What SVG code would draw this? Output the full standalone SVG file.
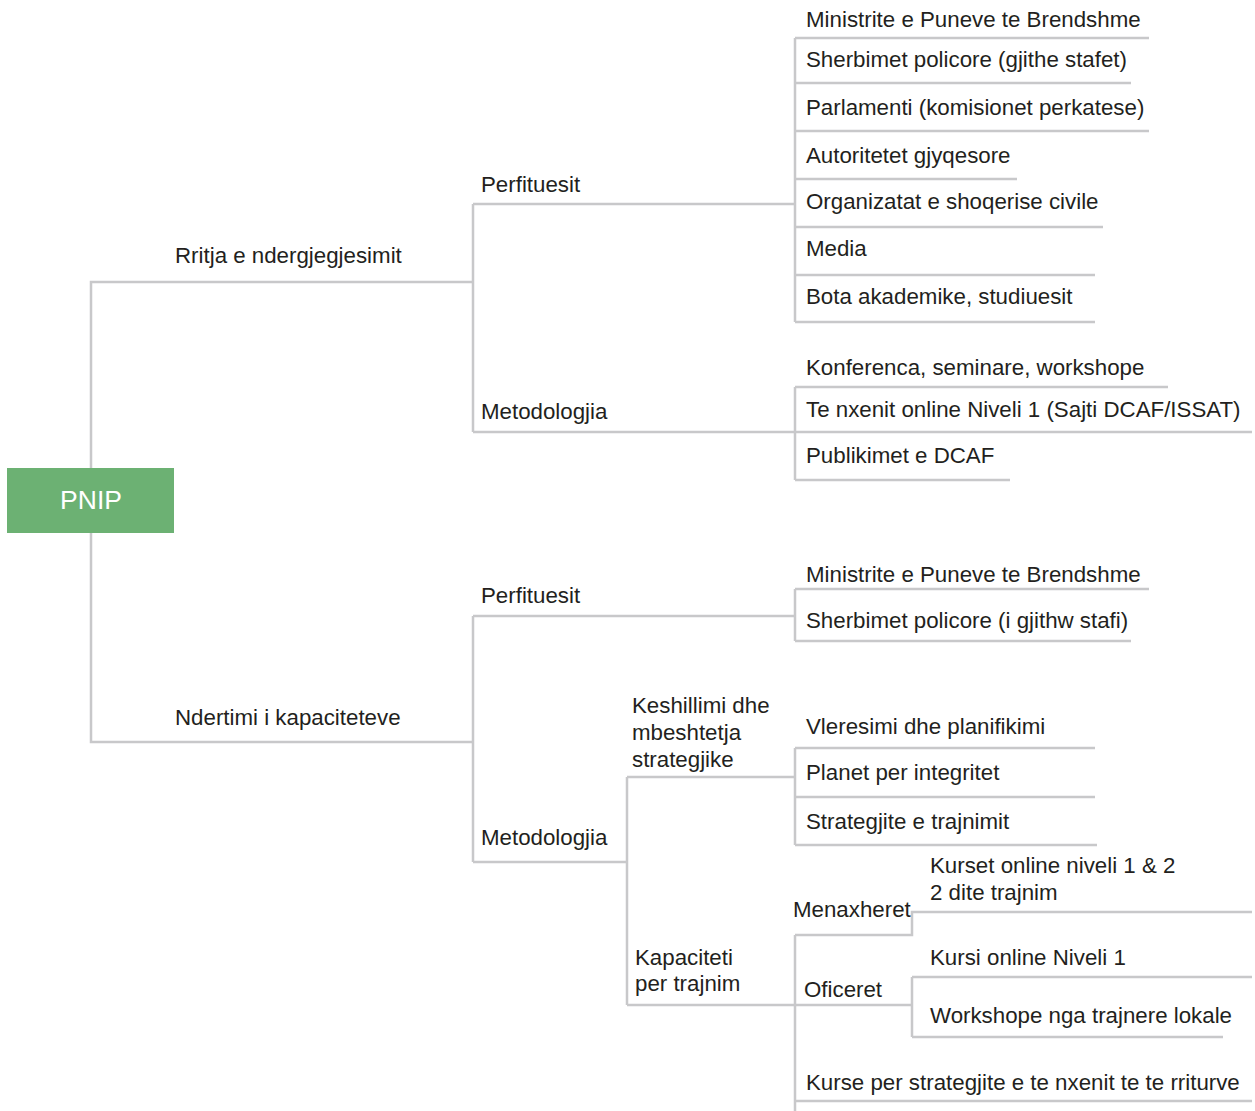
<svg xmlns="http://www.w3.org/2000/svg" width="1255" height="1111" viewBox="0 0 1255 1111">
<style>
.ln{fill:none;stroke:#c8c8ca;stroke-width:2.5}
text{font-family:"Liberation Sans",Arial,sans-serif;font-size:22.3px;fill:#231f20}
.root{font-size:26.5px;fill:#ffffff}
</style>
<rect width="1255" height="1111" fill="#ffffff"/>
<g id="connectors">
<path class="ln" d="M91 468V282H473M91 533V742H473"/>
<path class="ln" d="M473 204V432M473 204H795M473 432H795"/>
<path class="ln" d="M795 38V322M795 38H1149M795 83H1131M795 131H1149M795 179H1017M795 227H1103M795 275H1095M795 322H1095"/>
<path class="ln" d="M795 387V480M795 387H1168M795 432H1252M795 480H1010"/>
<path class="ln" d="M473 616V862M473 616H795M473 862H627"/>
<path class="ln" d="M795 589V641M795 589H1149M795 641H1131"/>
<path class="ln" d="M627 777V1005M627 777H795M627 1005H912"/>
<path class="ln" d="M795 748V845M795 748H1095M795 797H1095M795 845H1097"/>
<path class="ln" d="M795 935V1111M795 935H912V912H1252M795 1101H1252"/>
<path class="ln" d="M912 977V1037M912 977H1252M912 1037H1223"/>
</g>
<g id="n-pnip"><rect x="7" y="468" width="167" height="65" fill="#6cb173"/><text class="root" x="91" y="509" text-anchor="middle">PNIP</text></g>
<g id="n-rritja"><text x="175" y="263">Rritja e ndergjegjesimit</text></g>
<g id="n-ndertimi"><text x="175" y="725">Ndertimi i kapaciteteve</text></g>
<g id="n-perf1"><text x="481" y="192">Perfituesit</text></g>
<g id="n-met1"><text x="481" y="419">Metodologjia</text></g>
<g id="n-p1-1"><text x="806" y="27">Ministrite e Puneve te Brendshme</text></g>
<g id="n-p1-2"><text x="806" y="67">Sherbimet policore (gjithe stafet)</text></g>
<g id="n-p1-3"><text x="806" y="115">Parlamenti (komisionet perkatese)</text></g>
<g id="n-p1-4"><text x="806" y="163">Autoritetet gjyqesore</text></g>
<g id="n-p1-5"><text x="806" y="209">Organizatat e shoqerise civile</text></g>
<g id="n-p1-6"><text x="806" y="256">Media</text></g>
<g id="n-p1-7"><text x="806" y="304">Bota akademike, studiuesit</text></g>
<g id="n-m1-1"><text x="806" y="375">Konferenca, seminare, workshope</text></g>
<g id="n-m1-2"><text x="806" y="417">Te nxenit online Niveli 1 (Sajti DCAF/ISSAT)</text></g>
<g id="n-m1-3"><text x="806" y="463">Publikimet e DCAF</text></g>
<g id="n-perf2"><text x="481" y="603">Perfituesit</text></g>
<g id="n-p2-1"><text x="806" y="582">Ministrite e Puneve te Brendshme</text></g>
<g id="n-p2-2"><text x="806" y="628">Sherbimet policore (i gjithw stafi)</text></g>
<g id="n-met2"><text x="481" y="845">Metodologjia</text></g>
<g id="n-kesh"><text x="632" y="713">Keshillimi dhe</text><text x="632" y="740">mbeshtetja</text><text x="632" y="767">strategjike</text></g>
<g id="n-k-1"><text x="806" y="734">Vleresimi dhe planifikimi</text></g>
<g id="n-k-2"><text x="806" y="780">Planet per integritet</text></g>
<g id="n-k-3"><text x="806" y="829">Strategjite e trajnimit</text></g>
<g id="n-kap"><text x="635" y="965">Kapaciteti</text><text x="635" y="991">per trajnim</text></g>
<g id="n-menax"><text x="793" y="917">Menaxheret</text></g>
<g id="n-menax-1"><text x="930" y="873">Kurset online niveli 1 &amp; 2</text><text x="930" y="900">2 dite trajnim</text></g>
<g id="n-ofic"><text x="804" y="997">Oficeret</text></g>
<g id="n-ofic-1"><text x="930" y="965">Kursi online Niveli 1</text></g>
<g id="n-ofic-2"><text x="930" y="1023">Workshope nga trajnere lokale</text></g>
<g id="n-kurse"><text x="806" y="1090">Kurse per strategjite e te nxenit te te rriturve</text></g>
</svg>
